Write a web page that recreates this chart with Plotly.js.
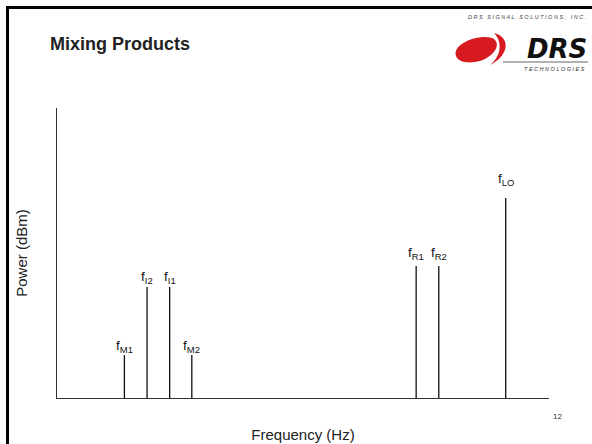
<!DOCTYPE html>
<html>
<head>
<meta charset="utf-8">
<script src="https://cdn.plot.ly/plotly-3.0.1.min.js"></script>
<style>html,body{margin:0;padding:0;background:#fff;}#chart{width:592px;height:444px;}</style>
</head>
<body>
<div id="chart"></div>
<script>
// Data (arbitrary frequency / power units)
const labels = ["M1", "I2", "I1", "M2", "R1", "R2", "LO"];
const freqs  = [13.7, 18.3, 22.9, 27.4, 73.0, 77.6, 91.2];
const powers = [14.8, 38.3, 38.3, 14.8, 45.5, 45.5, 69.0];

// label offsets (style only)
const labelShift = {M1: -2, I2: -1, I1: -1, M2: -2, R1: 2, R2: 2, LO: 8};

const W = 592, H = 444;
const L = 57, R = 549, T = 108, B = 398;
function px(x){ return ((x - L) / (R - L)).toFixed(4); }
function py(y){ return ((B - y) / (B - T)).toFixed(4); }
function P(x, y){ return px(x) + "," + py(y); }

// spikes built from data arrays
const xs = [], ys = [];
freqs.forEach((f, i) => { xs.push(f, f, null); ys.push(0, powers[i], null); });

const trace = {
  type: "scatter", mode: "lines", x: xs, y: ys,
  line: {color: "#111", width: 1.3}, hoverinfo: "skip", showlegend: false
};

const annotations = labels.map((lab, i) => ({
  x: freqs[i], y: powers[i], xref: "x", yref: "y",
  text: "f<sub>" + lab + "</sub>", showarrow: false,
  xanchor: "center", yanchor: "bottom", yshift: labelShift[lab],
  font: {family: "Liberation Sans, Arial, sans-serif", size: 13.5, color: "#111"}
}));

annotations.push(
  {xref: "paper", yref: "paper", x: px(557), y: py(416), text: "12", showarrow: false,
   xanchor: "center", yanchor: "middle", font: {family: "Liberation Sans, Arial", size: 8, color: "#333"}},
  {xref: "paper", yref: "paper", x: px(588), y: py(17), text: "<i>D R S   S I G N A L   S O L U T I O N S ,   I N C .</i>",
   showarrow: false, xanchor: "right", yanchor: "middle",
   font: {family: "Liberation Sans, Arial", size: 5.5, color: "#444"}},
  {xref: "paper", yref: "paper", x: px(589), y: py(49), text: "<b><i>DRS</i></b>", showarrow: false,
   xanchor: "right", yanchor: "middle", font: {family: "DejaVu Sans, Liberation Sans", size: 26, color: "#111"}},
  {xref: "paper", yref: "paper", x: px(587), y: py(69), text: "<i>T E C H N O L O G I E S</i>", showarrow: false,
   xanchor: "right", yanchor: "middle", font: {family: "Liberation Sans, Arial", size: 5.5, color: "#333"}}
);

const shapes = [
  // slide border
  {type: "line", xref: "paper", yref: "paper", x0: px(7.5), x1: px(7.5), y0: py(6), y1: py(444), line: {color: "#000", width: 3}},
  {type: "line", xref: "paper", yref: "paper", x0: px(6), x1: px(592), y0: py(7.5), y1: py(7.5), line: {color: "#000", width: 3}},
  // logo red ellipse
  {type: "path", xref: "paper", yref: "paper", fillcolor: "#d71920", line: {width: 0},
   path: "M" + P(456, 56) + " C" + P(452, 44) + " " + P(478, 34) + " " + P(492, 38) +
         " C" + P(502, 42) + " " + P(496, 56) + " " + P(480, 61) +
         " C" + P(468, 64) + " " + P(458, 62) + " " + P(456, 56) + " Z"},
  // logo red crescent
  {type: "path", xref: "paper", yref: "paper", fillcolor: "#d71920", line: {width: 0},
   path: "M" + P(494, 33) + " C" + P(512, 38) + " " + P(508, 56) + " " + P(490, 65) +
         " C" + P(501, 56) + " " + P(503, 42) + " " + P(494, 33) + " Z"},
  // logo underline
  {type: "line", xref: "paper", yref: "paper", x0: px(503), x1: px(588), y0: py(62), y1: py(62), line: {color: "#666", width: 1}}
];

const layout = {
  width: W, height: H,
  margin: {l: L, r: W - R, t: T, b: H - B, pad: 0},
  paper_bgcolor: "#fff", plot_bgcolor: "#fff",
  font: {family: "Liberation Sans, Arial, sans-serif", color: "#222"},
  title: {text: "Mixing Products", xref: "container", yref: "container",
          x: 50 / W, xanchor: "left", y: 1 - 44 / H, yanchor: "middle",
          font: {family: "Liberation Sans, Arial, sans-serif", size: 18, weight: "bold", color: "#222"}},
  xaxis: {range: [0, 100], showline: true, linecolor: "#333", linewidth: 1,
          showgrid: false, zeroline: false, showticklabels: false, ticks: "",
          title: {text: "Frequency (Hz)", standoff: 31, font: {size: 15, color: "#222"}}},
  yaxis: {range: [0, 100], showline: true, linecolor: "#333", linewidth: 1,
          showgrid: false, zeroline: false, showticklabels: false, ticks: "",
          title: {text: "Power (dBm)", standoff: 24, font: {size: 15, color: "#222"}}},
  annotations: annotations,
  shapes: shapes,
  showlegend: false
};

Plotly.newPlot("chart", [trace], layout, {displayModeBar: false, staticPlot: true});
</script>
</body>
</html>
